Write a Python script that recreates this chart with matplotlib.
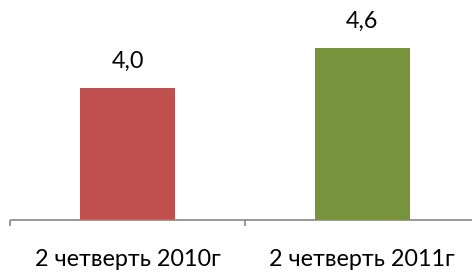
import matplotlib
matplotlib.use("Agg")
import matplotlib.pyplot as plt

categories = ["2 четверть 2010г", "2 четверть 2011г"]
values = [4.0, 4.6]
colors = ["#C0504D", "#77933C"]

plt.rcParams['font.family'] = ['Lato', 'DejaVu Sans']

fig = plt.figure(figsize=(4.72, 2.75), dpi=100)
ax = fig.add_axes([10.5 / 472, 55 / 275, 469 / 472, 220 / 275])

x = list(range(len(categories)))
bars = ax.bar(x, values, width=0.405, color=colors, bottom=0)

for xi, v in zip(x, values):
    ax.annotate(f"{v:.1f}".replace(".", ","), (xi, v), xytext=(0, 19.5),
                textcoords="offset points", ha="center", va="center",
                fontsize=16.8, color="#000000")

ax.set_xlim(-0.5, 1.5)
ax.set_ylim(2, 2 + 220 / 66)

for s in ["top", "right", "left"]:
    ax.spines[s].set_visible(False)
ax.spines["bottom"].set_color("#868686")
ax.spines["bottom"].set_linewidth(1.2)
ax.set_yticks([])

ax.set_xticks(x)
ax.set_xticklabels(categories, fontsize=16.8)
ax.tick_params(axis="x", which="major", length=0, pad=21)
ax.set_xticks([-0.5, 0.5, 1.5], minor=True)
ax.tick_params(axis="x", which="minor", length=4.5, width=1.2, color="#868686")

fig.savefig("out.png", dpi=100)
